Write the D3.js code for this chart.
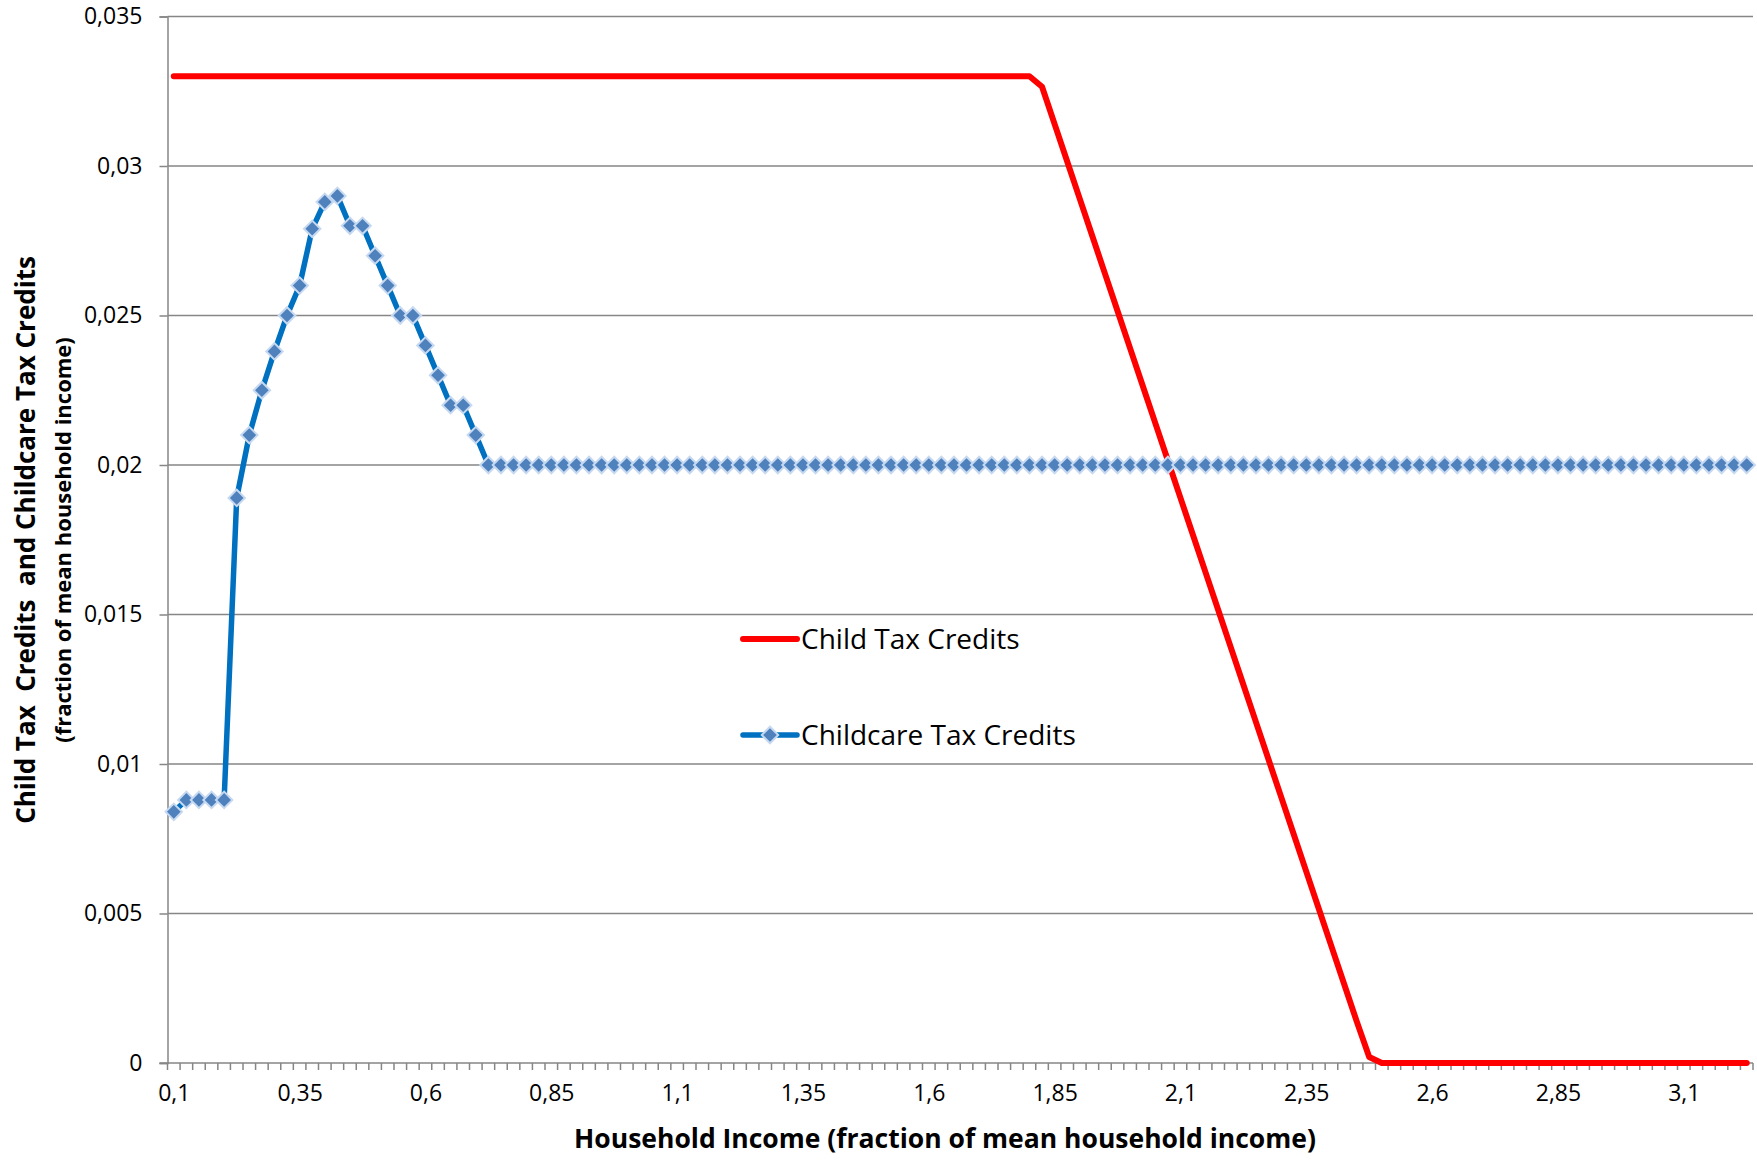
<!doctype html>
<meta charset="utf-8" />
<style>
    body {
        margin: 0;
        background: #FFFFFF;
    }
    text {
        font-family: "Open Sans", sans-serif;
    }
</style>
<svg></svg>

<script src="https://cdn.jsdelivr.net/npm/d3@7"></script>
<script>
    // household income categories (fraction of mean household income)
    var incomes = [
        0.1, 0.125, 0.15, 0.175, 0.2, 0.225, 0.25, 0.275, 0.3, 0.325,
        0.35, 0.375, 0.4, 0.425, 0.45, 0.475, 0.5, 0.525, 0.55, 0.575,
        0.6, 0.625, 0.65, 0.675, 0.7, 0.725, 0.75, 0.775, 0.8, 0.825,
        0.85, 0.875, 0.9, 0.925, 0.95, 0.975, 1, 1.025, 1.05, 1.075,
        1.1, 1.125, 1.15, 1.175, 1.2, 1.225, 1.25, 1.275, 1.3, 1.325,
        1.35, 1.375, 1.4, 1.425, 1.45, 1.475, 1.5, 1.525, 1.55, 1.575,
        1.6, 1.625, 1.65, 1.675, 1.7, 1.725, 1.75, 1.775, 1.8, 1.825,
        1.85, 1.875, 1.9, 1.925, 1.95, 1.975, 2, 2.025, 2.05, 2.075,
        2.1, 2.125, 2.15, 2.175, 2.2, 2.225, 2.25, 2.275, 2.3, 2.325,
        2.35, 2.375, 2.4, 2.425, 2.45, 2.475, 2.5, 2.525, 2.55, 2.575,
        2.6, 2.625, 2.65, 2.675, 2.7, 2.725, 2.75, 2.775, 2.8, 2.825,
        2.85, 2.875, 2.9, 2.925, 2.95, 2.975, 3, 3.025, 3.05, 3.075,
        3.1, 3.125, 3.15, 3.175, 3.2, 3.225
    ];

    var childTax = [
        0.033, 0.033, 0.033, 0.033, 0.033, 0.033, 0.033, 0.033, 0.033, 0.033,
        0.033, 0.033, 0.033, 0.033, 0.033, 0.033, 0.033, 0.033, 0.033, 0.033,
        0.033, 0.033, 0.033, 0.033, 0.033, 0.033, 0.033, 0.033, 0.033, 0.033,
        0.033, 0.033, 0.033, 0.033, 0.033, 0.033, 0.033, 0.033, 0.033, 0.033,
        0.033, 0.033, 0.033, 0.033, 0.033, 0.033, 0.033, 0.033, 0.033, 0.033,
        0.033, 0.033, 0.033, 0.033, 0.033, 0.033, 0.033, 0.033, 0.033, 0.033,
        0.033, 0.033, 0.033, 0.033, 0.033, 0.033, 0.033, 0.033, 0.033, 0.03265,
        0.0314, 0.03015, 0.0289, 0.02765, 0.0264, 0.02515, 0.0239, 0.02265, 0.0214, 0.02015,
        0.0189, 0.01765, 0.0164, 0.01515, 0.0139, 0.01265, 0.0114, 0.01015, 0.0089, 0.00765,
        0.0064, 0.00515, 0.0039, 0.00265, 0.0014, 0.0002, 0, 0, 0, 0,
        0, 0, 0, 0, 0, 0, 0, 0, 0, 0,
        0, 0, 0, 0, 0, 0, 0, 0, 0, 0,
        0, 0, 0, 0, 0, 0
    ];

    var childcareTax = [
        0.0084, 0.0088, 0.0088, 0.0088, 0.0088, 0.0189, 0.021, 0.0225, 0.0238, 0.025,
        0.026, 0.0279, 0.0288, 0.029, 0.028, 0.028, 0.027, 0.026, 0.025, 0.025,
        0.024, 0.023, 0.022, 0.022, 0.021, 0.02, 0.02, 0.02, 0.02, 0.02,
        0.02, 0.02, 0.02, 0.02, 0.02, 0.02, 0.02, 0.02, 0.02, 0.02,
        0.02, 0.02, 0.02, 0.02, 0.02, 0.02, 0.02, 0.02, 0.02, 0.02,
        0.02, 0.02, 0.02, 0.02, 0.02, 0.02, 0.02, 0.02, 0.02, 0.02,
        0.02, 0.02, 0.02, 0.02, 0.02, 0.02, 0.02, 0.02, 0.02, 0.02,
        0.02, 0.02, 0.02, 0.02, 0.02, 0.02, 0.02, 0.02, 0.02, 0.02,
        0.02, 0.02, 0.02, 0.02, 0.02, 0.02, 0.02, 0.02, 0.02, 0.02,
        0.02, 0.02, 0.02, 0.02, 0.02, 0.02, 0.02, 0.02, 0.02, 0.02,
        0.02, 0.02, 0.02, 0.02, 0.02, 0.02, 0.02, 0.02, 0.02, 0.02,
        0.02, 0.02, 0.02, 0.02, 0.02, 0.02, 0.02, 0.02, 0.02, 0.02,
        0.02, 0.02, 0.02, 0.02, 0.02, 0.02
    ];

    var yTicks = [0, 0.005, 0.01, 0.015, 0.02, 0.025, 0.03, 0.035];
    var yTickLabels = ['0', '0,005', '0,01', '0,015', '0,02', '0,025', '0,03', '0,035'];
    var xTickLabels = ['0,1', '0,35', '0,6', '0,85', '1,1', '1,35', '1,6', '1,85', '2,1', '2,35', '2,6', '2,85', '3,1'];

    var W = 1757, H = 1160;
    var plotL = 167.5, plotR = 1753, plotT = 16.5, plotB = 1063;
    var gridColor = '#868686';

    var svg = d3.select('svg')
        .attr('width', W)
        .attr('height', H)

    svg.append('rect')
        .attr('width', W)
        .attr('height', H)
        .style('fill', 'white')

    var x = d3.scaleBand()
        .domain(d3.range(incomes.length))
        .range([plotL, plotR])
        .padding(0)
    var bw = x.bandwidth();
    var cx = i => x(i) + bw / 2;

    var y = d3.scaleLinear()
        .domain([0, 0.035])
        .range([plotB, plotT])

    // horizontal gridlines
    svg.append('g')
        .selectAll('line')
        .data(yTicks.slice(1))
        .join('line')
        .attr('x1', plotL)
        .attr('x2', plotR)
        .attr('y1', d => y(d))
        .attr('y2', d => y(d))
        .style('stroke', gridColor)
        .style('stroke-width', 1.5)

    // y axis
    var yAxis = d3.axisLeft(y)
        .tickValues(yTicks)
        .tickSize(8)
        .tickPadding(17)
        .tickFormat((d, i) => yTickLabels[i])
    var gy = svg.append('g')
        .attr('transform', 'translate(' + plotL + ',0)')
        .call(yAxis)
    gy.select('.domain').style('stroke', gridColor).style('stroke-width', 1.5)
    gy.selectAll('.tick line').style('stroke', gridColor).style('stroke-width', 1.5)
    gy.selectAll('.tick text')
        .style('font-family', '"Open Sans", sans-serif')
        .style('font-size', '23px')
        .style('fill', '#000')

    // x axis line + category tick marks (between categories)
    svg.append('line')
        .attr('x1', plotL - 8)
        .attr('x2', plotR)
        .attr('y1', plotB)
        .attr('y2', plotB)
        .style('stroke', gridColor)
        .style('stroke-width', 1.5)

    svg.append('g')
        .selectAll('line')
        .data(d3.range(incomes.length + 1))
        .join('line')
        .attr('x1', i => plotL + i * bw)
        .attr('x2', i => plotL + i * bw)
        .attr('y1', plotB)
        .attr('y2', plotB + 7)
        .style('stroke', gridColor)
        .style('stroke-width', 1.5)

    // x labels every 10th category
    var xAxis = d3.axisBottom(d3.scaleLinear().domain([0, incomes.length]).range([plotL, plotR]))
        .tickValues(xTickLabels.map((d, i) => i * 10 + 0.5))
        .tickSize(0)
        .tickPadding(22)
        .tickFormat((d, i) => xTickLabels[i])
    var gx = svg.append('g')
        .attr('transform', 'translate(0,' + plotB + ')')
        .call(xAxis)
    gx.select('.domain').remove()
    gx.selectAll('.tick text')
        .style('font-family', '"Open Sans", sans-serif')
        .style('font-size', '23px')
        .style('fill', '#000')

    // axis titles
    svg.append('text')
        .attr('x', 945)
        .attr('y', 1148)
        .attr('text-anchor', 'middle')
        .style('font-size', '26.5px')
        .style('font-weight', 'bold')
        .text('Household Income (fraction of mean household income)')

    svg.append('text')
        .attr('transform', 'translate(35,540) rotate(-90)')
        .attr('text-anchor', 'middle')
        .style('font-size', '26px')
        .style('font-weight', 'bold')
        .style('white-space', 'pre')
        .text('Child Tax  Credits  and Childcare Tax Credits')

    svg.append('text')
        .attr('transform', 'translate(71,540) rotate(-90)')
        .attr('text-anchor', 'middle')
        .style('font-size', '22px')
        .style('font-weight', 'bold')
        .text('(fraction of mean household income)')

    // series
    var line = d3.line()
        .x((d, i) => cx(i))
        .y(d => y(d))

    svg.append('path')
        .datum(childTax)
        .attr('d', line)
        .style('fill', 'none')
        .style('stroke', '#FF0000')
        .style('stroke-width', 6)
        .style('stroke-linejoin', 'round')
        .style('stroke-linecap', 'round')

    svg.append('path')
        .datum(childcareTax)
        .attr('d', line)
        .style('fill', 'none')
        .style('stroke', '#0070C0')
        .style('stroke-width', 5.5)
        .style('stroke-linejoin', 'round')

    var diamond = d3.symbol(d3.symbolSquare, 135);

    svg.append('g')
        .selectAll('path')
        .data(childcareTax)
        .join('path')
        .attr('d', diamond)
        .attr('transform', (d, i) => 'translate(' + cx(i) + ',' + y(d) + ') rotate(45)')
        .style('fill', '#4F81BD')
        .style('stroke', '#C6D9F1')
        .style('stroke-width', 2)

    // legend
    var legend = svg.append('g')
    legend.append('line')
        .attr('x1', 743).attr('x2', 797)
        .attr('y1', 639).attr('y2', 639)
        .style('stroke', '#FF0000')
        .style('stroke-width', 6)
        .style('stroke-linecap', 'round')
    legend.append('text')
        .attr('x', 801)
        .attr('y', 649)
        .style('font-size', '28px')
        .text('Child Tax Credits')

    legend.append('line')
        .attr('x1', 743).attr('x2', 797)
        .attr('y1', 735).attr('y2', 735)
        .style('stroke', '#0070C0')
        .style('stroke-width', 5.5)
        .style('stroke-linecap', 'round')
    legend.append('path')
        .attr('d', diamond)
        .attr('transform', 'translate(770,735) rotate(45)')
        .style('fill', '#4F81BD')
        .style('stroke', '#C6D9F1')
        .style('stroke-width', 2)
    legend.append('text')
        .attr('x', 801)
        .attr('y', 745)
        .style('font-size', '28px')
        .text('Childcare Tax Credits')

</script>
